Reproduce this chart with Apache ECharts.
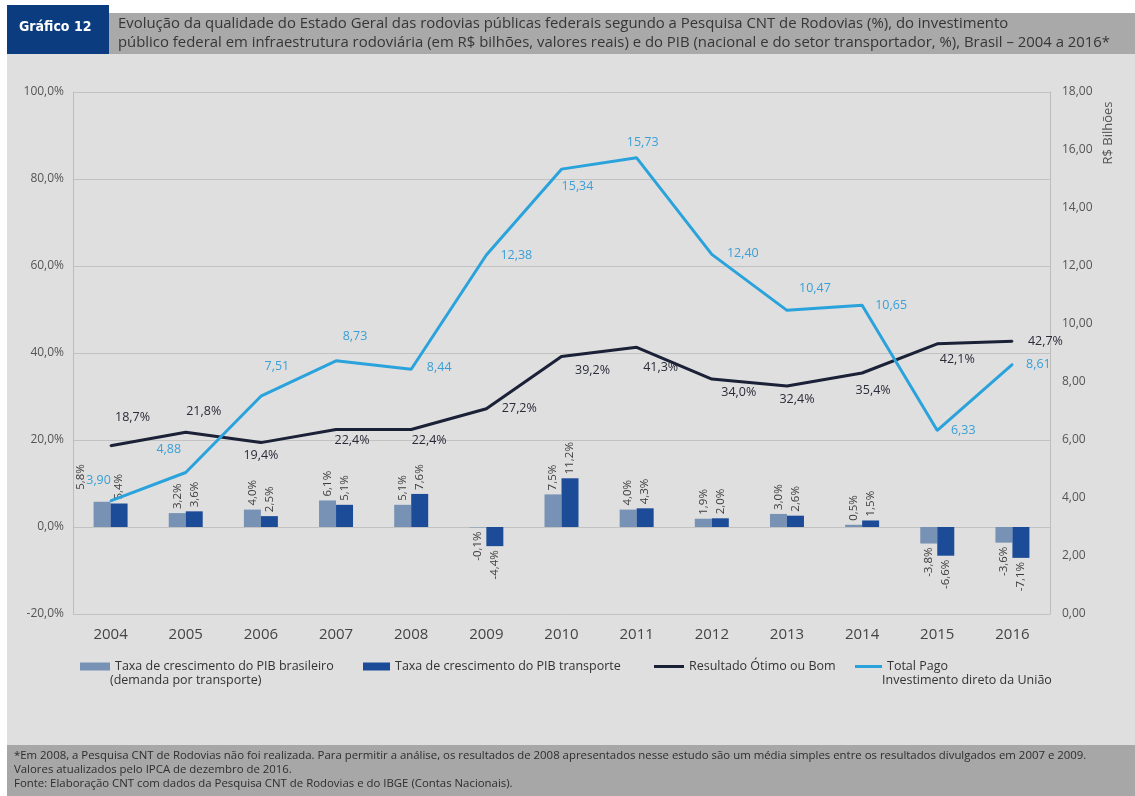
<!DOCTYPE html>
<html>
<head>
<meta charset="utf-8">
<script src="https://cdn.jsdelivr.net/npm/echarts@6/dist/echarts.min.js"></script>
<style>
html,body{margin:0;padding:0;background:#fff;}
#grafico{width:1135px;height:796px;}
</style>
</head>
<body>
<div id="grafico"></div>
<script>
var anos=['2004','2005','2006','2007','2008','2009','2010','2011','2012','2013','2014','2015','2016'];
var pibBrasil=[5.8,3.2,4.0,6.1,5.1,-0.1,7.5,4.0,1.9,3.0,0.5,-3.8,-3.6];
var pibTransporte=[5.4,3.6,2.5,5.1,7.6,-4.4,11.2,4.3,2.0,2.6,1.5,-6.6,-7.1];
var resultado=[18.7,21.8,19.4,22.4,22.4,27.2,39.2,41.3,34.0,32.4,35.4,42.1,42.7];
var totalPago=[3.90,4.88,7.51,8.73,8.44,12.38,15.34,15.73,12.40,10.47,10.65,6.33,8.61];

// deslocamento dos rotulos das linhas (px)
var posResultado=[[22,-28],[18,-21],[0,13],[16,11],[18,11],[33,0],[31,14],[24,20],[27,13],[10,13],[11,17],[20,16],[33,0]];
var posTotal=[[-12,-20],[-17,-23],[16,-30],[19,-24],[28,-2],[30,0],[16,17],[6,-15],[31,-1],[28,-22],[29,0],[26,0],[26,0]];

var fonte='"Open Sans", "Noto Sans", sans-serif';

function fmt(v,d){
	return v.toFixed(d).replace('.',',');
}

function dadosBarra(lista,ajuste){
	var arr=[];
	for(var i=0;i<lista.length;i++){
		var v=lista[i];
		var lab=v>=0?{position:'top',align:'left'}:{position:'bottom',align:'right'};
		if(ajuste && ajuste[i]) lab.offset=ajuste[i];
		arr.push({value:v,label:lab});
	}
	return arr;
}

function dadosLinha(lista,pos){
	var arr=[];
	for(var i=0;i<lista.length;i++){
		arr.push({value:lista[i],label:{offset:pos[i]}});
	}
	return arr;
}

var chart=echarts.init(document.getElementById('grafico'));

var rotuloBarra={
	show:true,
	rotate:90,
	verticalAlign:'middle',
	distance:4,
	fontSize:11.5,
	fontFamily:fonte,
	color:'#3c3c3c',
	formatter:function(p){return fmt(p.value,1)+'%';}
};

var legTexto={fontFamily:fonte,fontSize:12.5,color:'#333'};

var option={
	backgroundColor:'#ffffff',
	animation:false,
	graphic:[
		{type:'rect',z:-10,shape:{x:7,y:54,width:1128,height:691},style:{fill:'#dfdfdf'}},
		{type:'rect',z:-10,shape:{x:109,y:13,width:1026,height:41},style:{fill:'#a9a9a9'}},
		{type:'rect',z:-10,shape:{x:7,y:5,width:102,height:49},style:{fill:'#0c3c80'}},
		{type:'rect',z:-10,shape:{x:7,y:745,width:1128,height:51},style:{fill:'#a7a7a7'}},
		{type:'text',left:19,top:20,style:{text:'Gráfico 12',fill:'#ffffff',font:'bold 14px "Liberation Sans Narrow", "DejaVu Sans Condensed", sans-serif'}},
		{type:'text',left:118,top:14,style:{text:'Evolução da qualidade do Estado Geral das rodovias públicas federais segundo a Pesquisa CNT de Rodovias (%), do investimento\npúblico federal em infraestrutura rodoviária (em R$ bilhões, valores reais) e do PIB (nacional e do setor transportador, %), Brasil – 2004 a 2016*',fill:'#363636',font:'14.9px '+fonte,lineHeight:19}},
		{type:'text',left:14,top:749,style:{text:'*Em 2008, a Pesquisa CNT de Rodovias não foi realizada. Para permitir a análise, os resultados de 2008 apresentados nesse estudo são um média simples entre os resultados divulgados em 2007 e 2009.\nValores atualizados pelo IPCA de dezembro de 2016.\nFonte: Elaboração CNT com dados da Pesquisa CNT de Rodovias e do IBGE (Contas Nacionais).',fill:'#2e2e2e',font:'11.4px '+fonte,lineHeight:14}},
		{type:'text',x:1108,y:133,rotation:Math.PI/2,style:{text:'R$ Bilhões',fill:'#555555',font:'13px '+fonte,align:'center',verticalAlign:'middle'}},
		{type:'text',left:110,top:674,style:{text:'(demanda por transporte)',fill:'#333333',font:'12.5px '+fonte}},
		{type:'text',left:882,top:674,style:{text:'Investimento direto da União',fill:'#333333',font:'12.5px '+fonte}}
	],
	legend:[
		{data:['Taxa de crescimento do PIB brasileiro'],left:75,top:655,icon:'rect',itemWidth:30,itemHeight:8,textStyle:legTexto},
		{data:['Taxa de crescimento do PIB transporte'],left:358,top:655,icon:'rect',itemWidth:27,itemHeight:8,textStyle:legTexto},
		{data:['Resultado Ótimo ou Bom'],left:649,top:655,icon:'rect',itemWidth:30,itemHeight:3,textStyle:legTexto},
		{data:['Total Pago'],left:850,top:655,icon:'rect',itemWidth:27,itemHeight:3,textStyle:legTexto}
	],
	grid:{left:73,right:85,top:92,bottom:182},
	xAxis:{
		type:'category',
		data:anos,
		axisLine:{show:false},
		axisTick:{show:false},
		axisLabel:{margin:13,fontSize:15,fontFamily:fonte,color:'#444'}
	},
	yAxis:[
		{
			type:'value',min:-20,max:100,interval:20,
			axisLine:{show:true,lineStyle:{color:'#bdbdbd'}},
			axisTick:{show:false},
			splitLine:{lineStyle:{color:'#c2c2c2'}},
			axisLabel:{margin:9,fontSize:12,fontFamily:fonte,color:'#555',formatter:function(v){return fmt(v,1)+'%';}}
		},
		{
			type:'value',min:0,max:18,interval:2,
			axisLine:{show:true,lineStyle:{color:'#bdbdbd'}},
			axisTick:{show:false},
			splitLine:{show:false},
			axisLabel:{margin:12,fontSize:12,fontFamily:fonte,color:'#555',formatter:function(v){return fmt(v,2);}}
		}
	],
	series:[
		{
			name:'Taxa de crescimento do PIB brasileiro',
			type:'bar',
			yAxisIndex:0,
			barWidth:17,
			barGap:'0%',
			itemStyle:{color:'#7892b6'},
			label:rotuloBarra,
			data:dadosBarra(pibBrasil,{0:[8,-21]})
		},
		{
			name:'Taxa de crescimento do PIB transporte',
			type:'bar',
			yAxisIndex:0,
			barWidth:17,
			barGap:'0%',
			itemStyle:{color:'#1c4c97'},
			label:rotuloBarra,
			data:dadosBarra(pibTransporte)
		},
		{
			name:'Resultado Ótimo ou Bom',
			type:'line',
			yAxisIndex:0,
			z:4,
			symbol:'circle',
			symbolSize:2,
			lineStyle:{width:3,color:'#1b2137'},
			itemStyle:{color:'#1b2137'},
			label:{show:true,position:'inside',fontSize:12.5,fontFamily:fonte,color:'#2a2b3a',formatter:function(p){return fmt(p.value,1)+'%';}},
			data:dadosLinha(resultado,posResultado)
		},
		{
			name:'Total Pago',
			type:'line',
			yAxisIndex:1,
			z:5,
			symbol:'circle',
			symbolSize:2,
			lineStyle:{width:3,color:'#2aa3dc'},
			itemStyle:{color:'#2aa3dc'},
			label:{show:true,position:'inside',fontSize:12.5,fontFamily:fonte,color:'#3a9fd6',formatter:function(p){return fmt(p.value,2);}},
			data:dadosLinha(totalPago,posTotal)
		}
	]
};

chart.setOption(option);
</script>
</body>
</html>
